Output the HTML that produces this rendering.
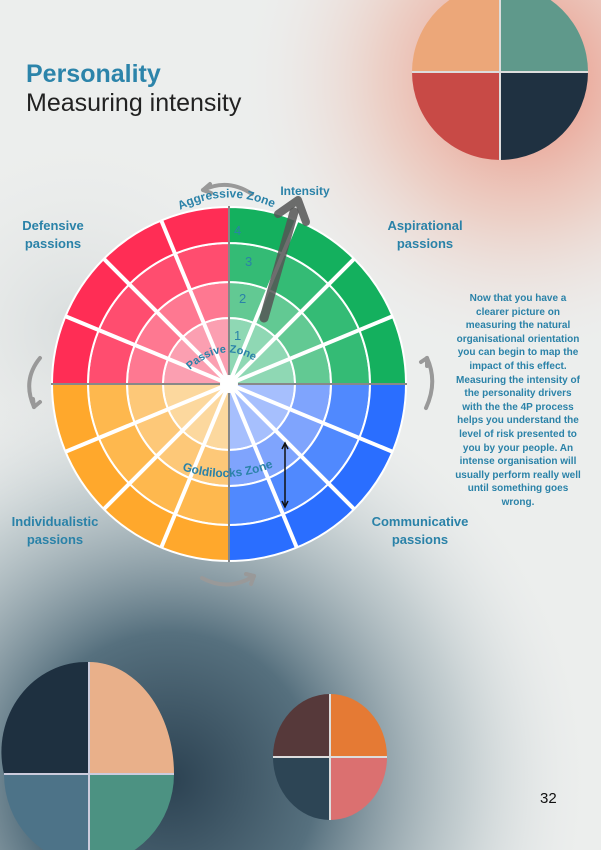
<!DOCTYPE html>
<html><head><meta charset="utf-8"><style>
html,body{margin:0;padding:0}
body{width:601px;height:850px;position:relative;overflow:hidden;font-family:"Liberation Sans",sans-serif;
background:#e9ebea;}
.bg{position:absolute;inset:0}
.t{position:absolute;color:#2a82a8;font-weight:bold;text-align:center}
</style></head><body>
<svg class="bg" width="601" height="850" viewBox="0 0 601 850">
<defs>
<radialGradient id="g1" cx="520" cy="80" r="280" gradientUnits="userSpaceOnUse"><stop offset="0" stop-color="#e98a78"/><stop offset="0.5" stop-color="#ecc3b6" stop-opacity=".7"/><stop offset="1" stop-color="#ebebea" stop-opacity="0"/></radialGradient>
<radialGradient id="g2" cx="170" cy="780" r="420" gradientUnits="userSpaceOnUse"><stop offset="0" stop-color="#2c4252"/><stop offset="0.35" stop-color="#56707e"/><stop offset="0.7" stop-color="#a9b8bd" stop-opacity=".6"/><stop offset="1" stop-color="#e6e9e9" stop-opacity="0"/></radialGradient>
<radialGradient id="g3" cx="80" cy="330" r="200" gradientUnits="userSpaceOnUse"><stop offset="0" stop-color="#c3cbcc" stop-opacity=".5"/><stop offset="1" stop-color="#ebebea" stop-opacity="0"/></radialGradient>
</defs>
<rect width="601" height="850" fill="#eceeed"/>
<rect width="601" height="850" fill="url(#g1)"/>
<rect width="601" height="850" fill="url(#g3)"/>
<rect width="601" height="850" fill="url(#g2)"/>
<g transform="translate(500,72)">
<path d="M0,0 L-88,0 A88,88 0 0 1 0,-88Z" fill="#eca779"/>
<path d="M0,0 L0,-88 A88,88 0 0 1 88,0Z" fill="#5f998b"/>
<path d="M0,0 L-88,0 A88,88 0 0 0 0,88Z" fill="#c84a46"/>
<path d="M0,0 L0,88 A88,88 0 0 0 88,0Z" fill="#1f3141"/>
<path d="M-88,0H88M0,-88V88" stroke="#ddd" stroke-width="2"/>
</g>
<g transform="translate(89,774)">
<path d="M0,0 L-85,0 A85,90 0 0 1 0,-112Z" fill="#1e3040"/>
<path d="M0,0 L0,-112 A85,112 0 0 1 85,0Z" fill="#e9b08a"/>
<path d="M0,0 L-85,0 A85,90 0 0 0 0,90Z" fill="#4d7388"/>
<path d="M0,0 L0,90 A85,90 0 0 0 85,0Z" fill="#4c9282"/>
<path d="M-85,0H85M0,-112V90" stroke="#ccd" stroke-width="2"/>
</g>
<g transform="translate(330,757)">
<path d="M0,0 L-57,0 A57,63 0 0 1 0,-63Z" fill="#56393a"/>
<path d="M0,0 L0,-63 A57,63 0 0 1 57,0Z" fill="#e57a34"/>
<path d="M0,0 L-57,0 A57,63 0 0 0 0,63Z" fill="#2d4555"/>
<path d="M0,0 L0,63 A57,63 0 0 0 57,0Z" fill="#db7070"/>
<path d="M-57,0H57M0,-63V63" stroke="#ddd" stroke-width="2"/>
</g>
<g transform="translate(229,384)" id="wheel"></g>
<g fill="none" stroke="#999" stroke-width="4" stroke-linecap="round">
<path d="M252,194 Q228,178 203,190"/><path d="M203,190 l7,-6 M203,190 l8,3"/>
<path d="M202,578 Q228,592 254,576"/><path d="M254,576 l-8,-2 M254,576 l-3,8"/>
<path d="M40,358 Q22,380 34,407"/><path d="M34,407 l-1,-8 M34,407 l6,-5"/>
<path d="M426,408 Q438,382 427,358"/><path d="M427,358 l0,8 M427,358 l-6,4"/>
</g>
</svg>
<div class="t" style="left:26px;top:60px;font-size:25px;color:#2c84aa;text-align:left">Personality</div>
<div style="position:absolute;left:26px;top:89px;font-size:25px;color:#222;">Measuring intensity</div>
<div class="t" style="left:8px;top:217px;width:90px;font-size:13px;line-height:18px">Defensive<br>passions</div>
<div class="t" style="left:370px;top:217px;width:110px;font-size:13px;line-height:18px">Aspirational<br>passions</div>
<div class="t" style="left:5px;top:513px;width:100px;font-size:13px;line-height:18px">Individualistic<br>passions</div>
<div class="t" style="left:360px;top:513px;width:120px;font-size:13px;line-height:18px">Communicative<br>passions</div>
<div class="t" style="left:275px;top:184px;width:60px;font-size:12px">Intensity</div>
<div class="t" style="left:438px;top:292px;width:160px;font-size:10px;line-height:13.6px;white-space:nowrap">Now that you have a<br>clearer picture on<br>measuring the natural<br>organisational orientation<br>you can begin to map the<br>impact of this effect.<br>Measuring the intensity of<br>the personality drivers<br>with the the 4P process<br>helps you understand the<br>level of risk presented to<br>you by your people. An<br>intense organisation will<br>usually perform really well<br>until something goes<br>wrong.</div>
<div style="position:absolute;left:540px;top:790px;font-size:15px;color:#111">32</div>
<script>
var g=document.getElementById('wheel');
var R=[0,66,102,141,177];
var cols=[['#fb9fb1','#fe7891','#ff4d6f','#ff2d55'],['#8fd8b4','#62c993','#34bb75','#14b05e'],['#fcd89e','#fdc878','#feb84e','#ffa82c'],['#a6bffd','#7fa4fd','#5089fe','#2a6eff']];
var quad=[[180,270],[270,360],[90,180],[0,90]];
function p(r,a){a=a*Math.PI/180;return [r*Math.cos(a),r*Math.sin(a)];}
var h='';
quad.forEach(function(q,qi){for(var i=0;i<4;i++){var a0=q[0],a1=q[1];var c=cols[qi][i],r0=R[i],r1=R[i+1];
var A=p(r1,a0),B=p(r1,a1),C=p(r0,a1),D=p(r0,a0);
h+='<path d="M'+D+' L'+A+' A'+r1+','+r1+' 0 0 1 '+B+' L'+C+(r0?' A'+r0+','+r0+' 0 0 0 '+D:'')+'Z" fill="'+c+'" stroke="#fff" stroke-width="2"/>';}
for(var k=1;k<4;k++){var e=p(177,q[0]+22.5*k);h+='<line x1="0" y1="0" x2="'+e[0]+'" y2="'+e[1]+'" stroke="#fff" stroke-width="4"/>';}});
h+='<line x1="-178" y1="0" x2="178" y2="0" stroke="#888" stroke-width="2"/><line x1="0" y1="-178" x2="0" y2="178" stroke="#888" stroke-width="2"/>';
h+='<circle r="9" fill="#fff"/>';
g.innerHTML=h;
var s=document.querySelector('svg');
var extra='<g font-family="Liberation Sans" fill="#2a82a8" font-size="13"><text x="234" y="235">4</text><text x="245" y="266">3</text><text x="239" y="303">2</text><text x="234" y="340">1</text></g>'+
'<path id="az" d="M180,210 Q229,185 278,210" fill="none"/><text font-size="12" font-weight="bold" fill="#2a82a8" font-family="Liberation Sans"><textPath href="#az">Aggressive Zone</textPath></text>'+
'<path id="pz" d="M190,370 Q228,335 266,370" fill="none"/><text font-size="11" font-weight="bold" fill="#2a82a8" font-family="Liberation Sans"><textPath href="#pz">Passive Zone</textPath></text>'+
'<path id="gz" d="M182,470 Q228,486 276,466" fill="none"/><text font-size="12" font-weight="bold" fill="#2a82a8" font-family="Liberation Sans"><textPath href="#gz">Goldilocks Zone</textPath></text>'+
'<line x1="264" y1="318" x2="294" y2="212" stroke="#555" stroke-opacity=".85" stroke-width="9" stroke-linecap="round"/><path d="M278,214 L298,200 L306,222" fill="none" stroke="#555" stroke-opacity=".85" stroke-width="8" stroke-linecap="round" stroke-linejoin="round"/>'+
'<line x1="285" y1="445" x2="285" y2="505" stroke="#111" stroke-width="1.5"/><path d="M282,449 L285,443 L288,449 M282,501 L285,507 L288,501" fill="none" stroke="#111" stroke-width="1.5"/>';
s.insertAdjacentHTML('beforeend',extra);
</script>
</body></html>
